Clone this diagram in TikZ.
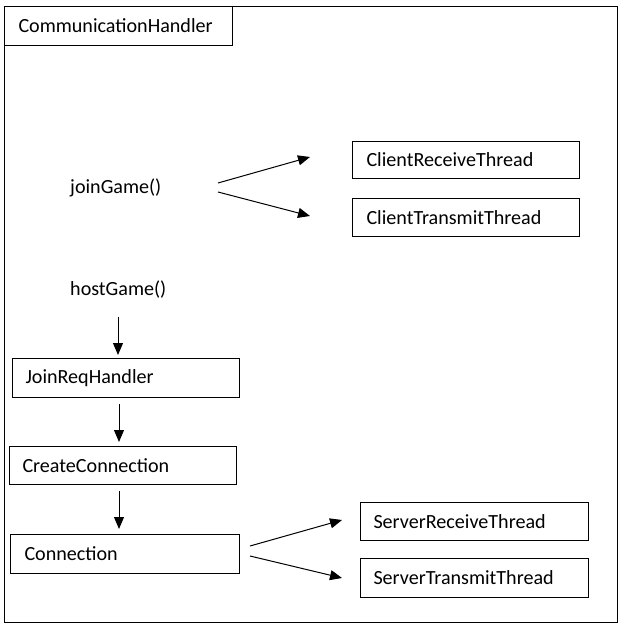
\documentclass[tikz,border=0pt]{standalone}
\usepackage{fontspec}
\setmainfont{Carlito}
\usetikzlibrary{arrows.meta}
\begin{document}
\begin{tikzpicture}[x=1pt,y=-1pt,
  every node/.style={font=\fontsize{20.1pt}{24pt}\selectfont},
  box/.style={draw, line width=1pt, anchor=north west, inner ysep=0pt, align=left, minimum height=#1},
  lbl/.style={anchor=west, inner sep=0pt},
  arr/.style={line width=1pt, -{Triangle[length=12pt,width=10pt]}}]
\useasboundingbox (0,0) rectangle (622,628);
\node[draw, line width=1pt, anchor=north west, minimum width=613pt, minimum height=616pt, inner sep=0pt] (frame) at (4,6) {};
\node[box=39pt, inner xsep=14pt, text width=200pt] (title) at (4,6) {CommunicationHandler};
\node[lbl] (jg) at (70,188) {joinGame()};
\node[lbl] (hg) at (70,290) {hostGame()};
\node[box=37pt, inner xsep=14pt, text width=199pt] (crt) at (352,141) {ClientReceiveThread};
\node[box=38pt, inner xsep=14pt, text width=199pt] (ctt) at (352,198) {ClientTransmitThread};
\node[box=39pt, inner xsep=13pt, text width=201pt] (jrh) at (12,358) {JoinReqHandler};
\node[box=38pt, inner xsep=13pt, text width=201pt] (cc) at (9,446) {CreateConnection};
\node[box=39pt, inner xsep=14pt, text width=201pt] (con) at (10,534) {Connection};
\node[box=38pt, inner xsep=13pt, text width=202pt] (srt) at (360,502) {ServerReceiveThread};
\node[box=39pt, inner xsep=13pt, text width=202pt] (stt) at (360,558) {ServerTransmitThread};
% connector ends
\coordinate (j1s) at (218,183); \coordinate (j1e) at (310,157);
\coordinate (j2s) at (218,192); \coordinate (j2e) at (310,216);
\coordinate (h1s) at (118,317); \coordinate (h1e) at (118,355);
\coordinate (h2s) at (119,404); \coordinate (h2e) at (119,442);
\coordinate (h3s) at (119,491); \coordinate (h3e) at (119,529);
\coordinate (c1s) at (250,546); \coordinate (c1e) at (342,520);
\coordinate (c2s) at (250,556); \coordinate (c2e) at (342,578);
\draw[arr] (j1s) -- (j1e);
\draw[arr] (j2s) -- (j2e);
\draw[arr] (h1s) -- (h1e);
\draw[arr] (h2s) -- (h2e);
\draw[arr] (h3s) -- (h3e);
\draw[arr] (c1s) -- (c1e);
\draw[arr] (c2s) -- (c2e);
\end{tikzpicture}
\end{document}
